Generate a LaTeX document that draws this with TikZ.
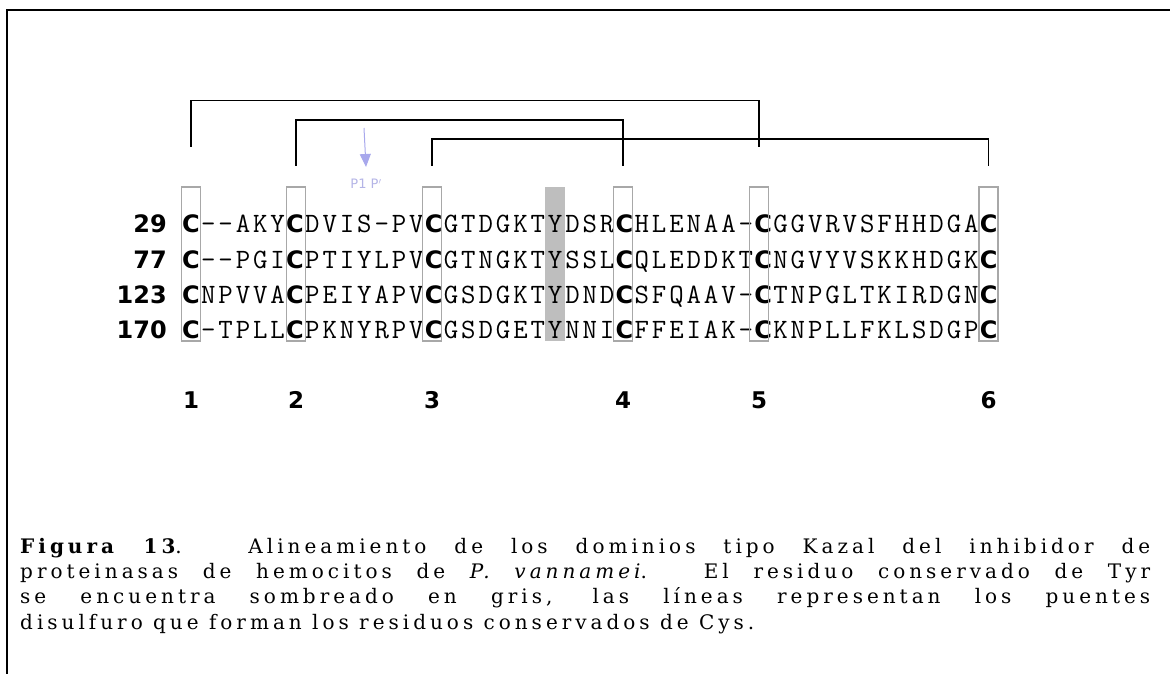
\documentclass[tikz,border=0pt]{standalone}
\usepackage{fontspec}
\usetikzlibrary{arrows.meta}
\newfontfamily\numfont{DejaVu Sans}
\newfontfamily\capfont[LetterSpace=20]{DejaVu Serif}
\definecolor{boxgray}{HTML}{A8A8A8}
\definecolor{shadegray}{HTML}{BEBEBE}
\definecolor{lav}{HTML}{A8A8EC}
\definecolor{lavtext}{HTML}{B4B4E6}
\makeatletter
\newcount\colidx
\def\letterC{C}
\newcommand\seqline[3]{% #1 row id, #2 y, #3 letters
  \global\colidx=0
  \@tfor\ch:=#3\do{%
    \ifx\ch\letterC
      \node[boldres] (r#1c\the\colidx) at ({191+\the\colidx*17.34},#2) {C};
    \else
      \node[res] (r#1c\the\colidx) at ({191+\the\colidx*17.34},#2) {\ch};
    \fi
    \global\advance\colidx by 1
  }%
}
\makeatother
\tikzset{
  res/.style={inner sep=0pt, font=\ttfamily\fontsize{28}{28}\selectfont, text height=17pt, text depth=0pt},
  boldres/.style={inner sep=0pt, font=\numfont\bfseries\fontsize{24}{24}\selectfont, text height=17pt, text depth=0pt},
  rownum/.style={inner sep=0pt, anchor=east, font=\numfont\bfseries\fontsize{24}{24}\selectfont, text height=17pt, text depth=0pt},
  posnum/.style={inner sep=0pt, font=\numfont\bfseries\fontsize{23}{23}\selectfont},
  cbox/.style={draw=boxgray, line width=1.2pt, minimum width=19pt, minimum height=154pt, inner sep=0pt},
  tyrshade/.style={fill=shadegray, draw=none, minimum width=20pt, minimum height=154pt, inner sep=0pt},
  bracket/.style={draw=black, line width=1.6pt},
  capline/.style={inner sep=0pt, anchor=base west},
}
\newcommand\capsize{\capfont\fontsize{20}{24}\selectfont}
\begin{document}
\begin{tikzpicture}[x=1pt,y=-1pt]
\useasboundingbox (0,0) rectangle (1170,674);
% frame
\draw[line width=2pt] (6.5,674) -- (6.5,10.5) -- (1170,10.5);
% shaded Tyr column
\node[tyrshade] (tyr) at ({191+21*17.34},264) {};
% row numbers
\node[rownum] (n29) at (167,224) {29};
\node[rownum] (n77) at (167,259.5) {77};
\node[rownum] (n123) at (167,294.5) {123};
\node[rownum] (n170) at (167,329.5) {170};
% sequences
\seqline{1}{224}{C––AKYCDVIS-PVCGTDGKTYDSRCHLENAA-CGGVRVSFHHDGAC}
\seqline{2}{259.5}{C--PGICPTIYLPVCGTNGKTYSSLCQLEDDKTCNGVYVSKKHDGKC}
\seqline{3}{294.5}{CNPVVACPEIYAPVCGSDGKTYDNDCSFQAAV-CTNPGLTKIRDGNC}
\seqline{4}{329.5}{C-TPLLCPKNYRPVCGSDGETYNNICFFEIAK-CKNPLLFKLSDGPC}
% cysteine boxes
\node[cbox] (box1) at (191,264) {};
\node[cbox] (box2) at (296,264) {};
\node[cbox] (box3) at (432,264) {};
\node[cbox] (box4) at (623,264) {};
\node[cbox] (box5) at (759,264) {};
\node[cbox] (box6) at (988.5,264) {};
% bracket feet
\coordinate (f1) at (box1.center |- 0,147);
\coordinate (f5) at (box5.center |- 0,147);
\coordinate (f2) at (box2.center |- 0,166);
\coordinate (f4) at (box4.center |- 0,166);
\coordinate (f3) at (box3.center |- 0,166);
\coordinate (f6) at (box6.center |- 0,166);
% disulfide bridges
\draw[bracket] (f1) -- ++(0,-46.5) -| (f5);
\draw[bracket] (f2) -- ++(0,-46) -| (f4);
\draw[bracket] (f3) -- ++(0,-27) -| (f6);
% P1 arrow
\coordinate (atop) at (364,128);
\node[inner sep=0pt, text=lavtext, font=\numfont\fontsize{13}{13}\selectfont] (p1) at (366,184) {P1 P$'$};
\draw[lav, line width=1pt, -{Triangle[width=11pt,length=13pt]}] (atop) -- (p1.north |- 0,167);
% position numbers
\node[posnum] (c1) at (box1.center |- 0,400) {1};
\node[posnum] (c2) at (box2.center |- 0,400) {2};
\node[posnum] (c3) at (box3.center |- 0,400) {3};
\node[posnum] (c4) at (box4.center |- 0,400) {4};
\node[posnum] (c5) at (box5.center |- 0,400) {5};
\node[posnum] (c6) at (box6.center |- 0,400) {6};
% caption
\node[capline] (cap1) at (20,553) {\capsize\makebox[1130pt][s]{\textbf{Figura 13}. Alineamiento de los dominios tipo Kazal del inhibidor de}};
\node[capline] (cap2) at (20,578) {\capsize\makebox[1130pt][s]{proteinasas de hemocitos de \textit{P. vannamei}. El residuo conservado de Tyr}};
\node[capline] (cap3) at (20,603.5) {\capsize\makebox[1130pt][s]{se encuentra sombreado en gris, las líneas representan los puentes}};
\node[capline] (cap4) at (20,629) {\capsize disulfuro que forman los residuos conservados de Cys.};
\end{tikzpicture}
\end{document}
